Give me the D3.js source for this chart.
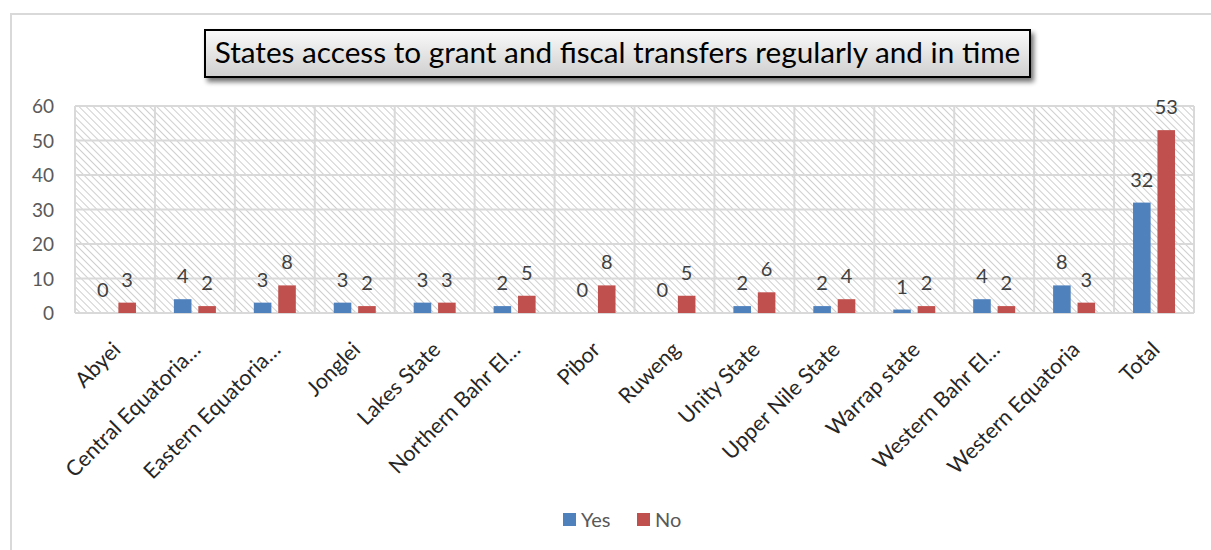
<!DOCTYPE html>
<html>
<head>
<meta charset="utf-8">
<script src="https://cdn.jsdelivr.net/npm/d3@7"></script>
<style>
  html, body { margin: 0; padding: 0; background: #fff; }
  svg { display: block; font-family: Lato, "Open Sans", sans-serif; }
</style>
</head>
<body>
<svg id="chart" width="1211" height="550"></svg>
<script>
const categories = [
  "Abyei", "Central Equatoria…", "Eastern Equatoria…", "Jonglei", "Lakes State",
  "Northern Bahr El…", "Pibor", "Ruweng", "Unity State", "Upper Nile State",
  "Warrap state", "Western Bahr El…", "Western Equatoria", "Total"
];
const yesValues = [0, 4, 3, 3, 3, 2, 0, 0, 2, 2, 1, 4, 8, 32];
const noValues  = [3, 2, 8, 2, 3, 5, 8, 5, 6, 4, 2, 2, 3, 53];
const seriesNames = ["Yes", "No"];
const seriesColors = ["#4f81bd", "#c0504d"];
const yTicks = [0, 10, 20, 30, 40, 50, 60];
const title = "States access to grant and fiscal transfers regularly and in time";

const svg = d3.select("#chart");
const defs = svg.append("defs");

// diagonal hatch used as the plot background
const hatch = defs.append("pattern")
  .attr("id", "hatch").attr("patternUnits", "userSpaceOnUse")
  .attr("width", 5).attr("height", 5)
  .attr("patternTransform", "rotate(-45)");
hatch.append("rect").attr("width", 5).attr("height", 5).attr("fill", "#ffffff");
hatch.append("line").attr("x1", 0).attr("y1", 0).attr("x2", 0).attr("y2", 5)
  .attr("stroke", "#cfcfcf").attr("stroke-width", 2);

// title box fill and shadow
const grad = defs.append("linearGradient").attr("id", "titleGrad")
  .attr("x1", 0).attr("y1", 0).attr("x2", 0).attr("y2", 1);
grad.append("stop").attr("offset", "0%").attr("stop-color", "#fafafa");
grad.append("stop").attr("offset", "100%").attr("stop-color", "#cfcfcf");
const shadow = defs.append("filter").attr("id", "shadow")
  .attr("x", "-5%").attr("y", "-30%").attr("width", "115%").attr("height", "170%");
shadow.append("feGaussianBlur").attr("in", "SourceAlpha").attr("stdDeviation", 2.5);
shadow.append("feOffset").attr("dx", 3).attr("dy", 4).attr("result", "b");
shadow.append("feComponentTransfer").append("feFuncA").attr("type", "linear").attr("slope", 0.55);
const merge = shadow.append("feMerge");
merge.append("feMergeNode");
merge.append("feMergeNode").attr("in", "SourceGraphic");

// outer chart frame
svg.append("rect").attr("x", 11).attr("y", 14).attr("width", 1220).attr("height", 560)
  .attr("fill", "none").attr("stroke", "#d9d9d9").attr("stroke-width", 2);

const plot = { left: 75, right: 1194, top: 106, bottom: 313 };

const x0 = d3.scaleBand().domain(categories).range([plot.left, plot.right]).paddingInner(0).paddingOuter(0);
const y = d3.scaleLinear().domain([0, 60]).range([plot.bottom, plot.top]);
const x1 = d3.scaleBand().domain(seriesNames).range([-21, 21]).paddingInner(0.28);

// plot background
svg.append("rect")
  .attr("x", plot.left).attr("y", plot.top)
  .attr("width", plot.right - plot.left).attr("height", plot.bottom - plot.top)
  .attr("fill", "url(#hatch)");

// horizontal gridlines
svg.append("g").selectAll("line").data(yTicks).join("line")
  .attr("x1", plot.left).attr("x2", plot.right)
  .attr("y1", d => y(d)).attr("y2", d => y(d))
  .attr("stroke", "#d9d9d9").attr("stroke-width", 2);

// vertical gridlines at category boundaries
const bounds = categories.map(c => x0(c)).concat([plot.right]);
svg.append("g").selectAll("line").data(bounds).join("line")
  .attr("x1", d => d).attr("x2", d => d)
  .attr("y1", plot.top).attr("y2", plot.bottom)
  .attr("stroke", "#d9d9d9").attr("stroke-width", 2);

// y axis labels
const yAxis = d3.axisLeft(y).tickValues(yTicks).tickSize(0).tickPadding(0);
const gy = svg.append("g").attr("transform", "translate(54,0)").call(yAxis);
gy.select(".domain").remove();
gy.selectAll("text").attr("fill", "#595959").attr("font-size", 19)
  .attr("font-family", "Lato, sans-serif").attr("dy", "0.36em");

// bars
const rows = categories.map((c, i) => ({ cat: c, values: [yesValues[i], noValues[i]] }));
const groups = svg.append("g").selectAll("g").data(rows).join("g")
  .attr("transform", d => `translate(${x0(d.cat) + x0.bandwidth() / 2},0)`);

groups.selectAll("rect").data(d => d.values.map((v, k) => ({ v, k }))).join("rect")
  .attr("x", d => x1(seriesNames[d.k]))
  .attr("width", x1.bandwidth())
  .attr("y", d => y(d.v))
  .attr("height", d => plot.bottom - y(d.v))
  .attr("fill", d => seriesColors[d.k]);

// value labels
groups.selectAll("text").data(d => d.values.map((v, k) => ({ v, k }))).join("text")
  .attr("x", d => x1(seriesNames[d.k]) + x1.bandwidth() / 2)
  .attr("y", d => y(d.v) - 16)
  .attr("text-anchor", "middle")
  .attr("fill", "#404040").attr("font-size", 20)
  .text(d => d.v);

// category labels, rotated
const xAxis = d3.axisBottom(x0).tickSize(0).tickPadding(0);
const gx = svg.append("g").attr("transform", `translate(0,${plot.bottom})`).call(xAxis);
gx.select(".domain").remove();
gx.selectAll("text")
  .attr("fill", "#262626").attr("font-size", 21.5).attr("font-family", "Lato, sans-serif")
  .attr("text-anchor", "end")
  .attr("dy", null).attr("y", 0)
  .attr("transform", "translate(7,38) rotate(-45)");

// title box
const tb = { x: 205, y: 30, w: 825, h: 47 };
svg.append("rect").attr("x", tb.x).attr("y", tb.y).attr("width", tb.w).attr("height", tb.h)
  .attr("fill", "url(#titleGrad)").attr("stroke", "#000").attr("stroke-width", 2)
  .attr("filter", "url(#shadow)");
const tt = svg.append("text")
  .attr("x", tb.x + tb.w / 2).attr("y", tb.y + tb.h / 2 + 9)
  .attr("text-anchor", "middle").attr("fill", "#000")
  .attr("font-size", 26).attr("font-family", "Lato, sans-serif")
  .text(title);
const tw = tt.node().getComputedTextLength();
if (tw > 0) tt.attr("font-size", 26 * 806 / tw);

// legend
const legend = svg.append("g");
const legendX = [563, 637];
seriesNames.forEach((name, k) => {
  legend.append("rect").attr("x", legendX[k]).attr("y", 513).attr("width", 13).attr("height", 13)
    .attr("fill", seriesColors[k]);
  legend.append("text").attr("x", legendX[k] + 18).attr("y", 527)
    .attr("fill", "#595959").attr("font-size", 20).text(name);
});
</script>
</body>
</html>
